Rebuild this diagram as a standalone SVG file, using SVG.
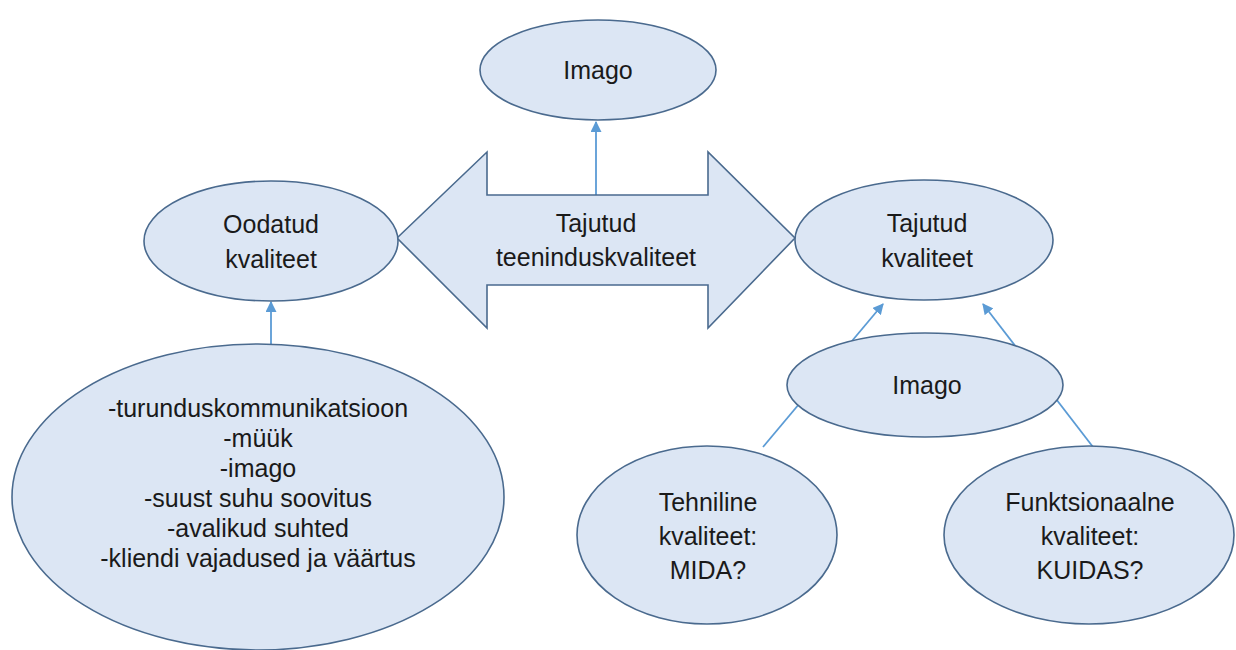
<svg xmlns="http://www.w3.org/2000/svg" width="1236" height="650" viewBox="0 0 1236 650">
<defs>
<style>
.node{fill:#dce6f4;stroke:#4a6a8e;stroke-width:1.6}
.t{font-family:"Liberation Sans",Arial,sans-serif;font-size:25px;fill:#1a1a1a;text-anchor:middle}
.c{stroke:#5b9bd5;stroke-width:1.8;fill:none}
</style>
<marker id="ah" viewBox="0 0 10 10" refX="9" refY="5" markerWidth="11" markerHeight="11" markerUnits="userSpaceOnUse" orient="auto">
<path d="M0,0 L10,5 L0,10 z" fill="#5b9bd5"/>
</marker>
</defs>
<rect width="1236" height="650" fill="#ffffff"/>
<g id="connectors">
<line class="c" x1="596" y1="195" x2="596" y2="122" marker-end="url(#ah)"/>
<line class="c" x1="271" y1="344" x2="271" y2="302" marker-end="url(#ah)"/>
<line class="c" x1="763" y1="447" x2="883" y2="304" marker-end="url(#ah)"/>
<line class="c" x1="1093" y1="447" x2="983" y2="304" marker-end="url(#ah)"/>
</g>
<g id="imago-top">
<ellipse class="node" cx="598" cy="70" rx="118" ry="50"/>
<text class="t" x="598" y="79">Imago</text>
</g>
<g id="tajutud-teeninduskvaliteet">
<path class="node" d="M397,238 L487,152 L487,195 L708,195 L708,152 L795,238 L708,328 L708,285 L487,285 L487,328 Z"/>
<text class="t" x="596" y="232">Tajutud</text>
<text class="t" x="596" y="266">teeninduskvaliteet</text>
</g>
<g id="oodatud">
<ellipse class="node" cx="271" cy="241" rx="127" ry="60"/>
<text class="t" x="271" y="233">Oodatud</text>
<text class="t" x="271" y="268">kvaliteet</text>
</g>
<g id="tegurid">
<ellipse class="node" cx="258" cy="497" rx="246" ry="153"/>
<text class="t" x="258" y="417">-turunduskommunikatsioon</text>
<text class="t" x="258" y="447">-müük</text>
<text class="t" x="258" y="477">-imago</text>
<text class="t" x="258" y="507">-suust suhu soovitus</text>
<text class="t" x="258" y="537">-avalikud suhted</text>
<text class="t" x="258" y="567">-kliendi vajadused ja väärtus</text>
</g>
<g id="tajutud-kvaliteet">
<ellipse class="node" cx="924" cy="240" rx="129" ry="60"/>
<text class="t" x="927" y="232">Tajutud</text>
<text class="t" x="927" y="267">kvaliteet</text>
</g>
<g id="imago-mid">
<ellipse class="node" cx="925" cy="385" rx="138" ry="52"/>
<text class="t" x="927" y="394">Imago</text>
</g>
<g id="tehniline">
<ellipse class="node" cx="707" cy="535" rx="130" ry="89"/>
<text class="t" x="708" y="511">Tehniline</text>
<text class="t" x="708" y="545">kvaliteet:</text>
<text class="t" x="708" y="579">MIDA?</text>
</g>
<g id="funktsionaalne">
<ellipse class="node" cx="1089" cy="535" rx="145" ry="89"/>
<text class="t" x="1090" y="511">Funktsionaalne</text>
<text class="t" x="1090" y="545">kvaliteet:</text>
<text class="t" x="1090" y="579">KUIDAS?</text>
</g>
</svg>
